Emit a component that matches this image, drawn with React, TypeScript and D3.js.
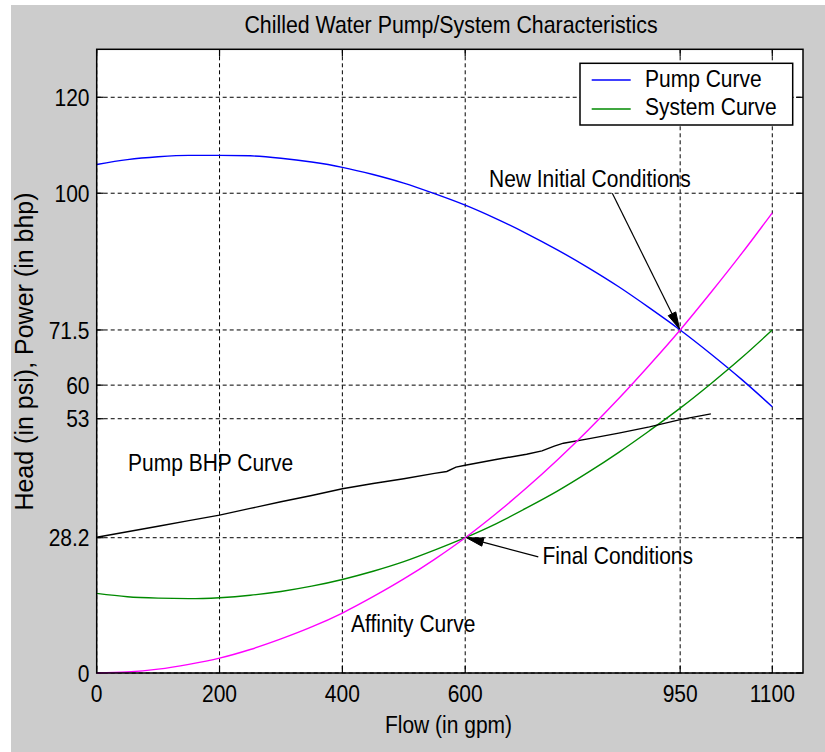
import React from 'react';
import * as d3 from 'd3';

// ---------- data ----------
const flow = [0, 50, 100, 150, 200, 250, 300, 350, 400, 450, 500, 550, 600, 650, 700, 750, 800, 850, 900, 950, 1000, 1050, 1100];
const pumpHead = [106.0, 107.0, 107.6, 107.9, 107.9, 107.8, 107.3, 106.5, 105.4, 103.9, 102.1, 99.9, 97.5, 94.7, 91.6, 88.2, 84.5, 80.5, 76.1, 71.5, 66.5, 61.2, 55.5];
const systemHead = [16.6, 15.9, 15.6, 15.5, 15.7, 16.2, 17.0, 18.1, 19.5, 21.2, 23.2, 25.6, 28.2, 31.1, 34.4, 37.9, 41.8, 46.0, 50.5, 55.2, 60.3, 65.7, 71.5];
const affinityHead = [0, 0.2, 0.8, 1.8, 3.1, 4.9, 7.1, 9.6, 12.5, 15.9, 19.6, 23.7, 28.2, 33.2, 38.6, 44.4, 50.6, 57.2, 64.2, 71.5, 79.3, 87.4, 95.9];
const bhpFlow = [0, 50, 100, 150, 200, 250, 300, 350, 400, 450, 500, 550, 570, 585, 600, 650, 700, 725, 745, 760, 800, 850, 900, 950, 1000];
const bhpPower = [28.3, 29.45, 30.6, 31.75, 32.9, 34.3, 35.7, 37.0, 38.4, 39.5, 40.5, 41.6, 42.0, 42.9, 43.3, 44.5, 45.6, 46.3, 47.3, 47.9, 48.8, 50.0, 51.3, 52.8, 54.0];

const xTicks = [0, 200, 400, 600, 950, 1100];
const xTickLabels = ['0', '200', '400', '600', '950', '1100'];
const yTicks = [0, 28.2, 53, 60, 71.5, 100, 120];
const yTickLabels = ['0', '28.2', '53', '60', '71.5', '100', '120'];

const legendNames = ['Pump Curve', 'System Curve'];
const legendColors = ['#0000ff', '#008a00'];

// annotations in data units
const arrowNotes = [
  { label: 'New Initial Conditions', tx: 638.7, ty: 101.3, ax: 839.5, ay: 100.0, bx: 949, by: 71.7 },
  { label: 'Final Conditions', tx: 725.9, ty: 22.7, ax: 719, ay: 24.2, bx: 602, by: 28.2 },
];
const plainNotes = [
  { label: 'Pump BHP Curve', tx: 51, ty: 42.1 },
  { label: 'Affinity Curve', tx: 414, ty: 8.5 },
];

const FONT = 'Liberation Sans, Arial, Helvetica, sans-serif';

function T(props: { x: number; y: number; anchor?: string; size?: number; sx?: number; rotate?: number; children: React.ReactNode }) {
  const { x, y, anchor = 'start', size = 24, sx = 0.875, rotate = 0, children } = props;
  const tr = `translate(${x},${y})${rotate ? ` rotate(${rotate})` : ''} scale(${sx},1)`;
  return (
    <text transform={tr} textAnchor={anchor} fontSize={size} fill="#000">{children}</text>
  );
}

export default function App() {
  const W = 825, H = 752;
  const left = 96.7, right = 803, top = 49.3, bottom = 673;
  const x = d3.scaleLinear().domain([0, 1150]).range([left, right]);
  const y = d3.scaleLinear().domain([0, 130]).range([bottom, top]);

  const lineSmooth = d3.line<[number, number]>().x(d => x(d[0])).y(d => y(d[1])).curve(d3.curveMonotoneX);
  const lineLin = d3.line<[number, number]>().x(d => x(d[0])).y(d => y(d[1]));

  const pumpPts = flow.map((q, i) => [q, pumpHead[i]] as [number, number]);
  const sysPts = flow.map((q, i) => [q, systemHead[i]] as [number, number]);
  const affPts = flow.map((q, i) => [q, affinityHead[i]] as [number, number]);
  const bhpPts = bhpFlow.map((q, i) => [q, bhpPower[i]] as [number, number]);

  const tick = 7;

  const arrowHead = (x1: number, y1: number, x2: number, y2: number) => {
    const dx = x2 - x1, dy = y2 - y1;
    const len = Math.hypot(dx, dy);
    const ux = dx / len, uy = dy / len;
    const L = 17, hw = 4.2;
    const bx = x2 - ux * L, by = y2 - uy * L;
    const px = -uy, py = ux;
    return {
      base: [bx, by],
      pts: `${x2},${y2} ${bx + px * hw},${by + py * hw} ${bx - px * hw},${by - py * hw}`,
    };
  };

  return (
    <svg width={W} height={H} style={{ position: 'absolute', left: 0, top: 0, display: 'block' }} fontFamily={FONT}>
      <rect x={0} y={0} width={W} height={H} fill="#ffffff" />
      <rect x={11} y={5} width={W - 11} height={H - 5} fill="#cccccc" />
      <rect x={left} y={top} width={right - left} height={bottom - top} fill="#ffffff" />

      {/* grid */}
      <g stroke="#000" strokeWidth={1} strokeDasharray="4,3" fill="none">
        {xTicks.map((t, i) => (
          <line key={'gx' + i} x1={x(t)} x2={x(t)} y1={top} y2={bottom} />
        ))}
        {yTicks.map((t, i) => (
          <line key={'gy' + i} x1={left} x2={right} y1={y(t)} y2={y(t)} />
        ))}
      </g>

      {/* ticks */}
      <g stroke="#000" strokeWidth={1.2}>
        {xTicks.map((t, i) => (
          <g key={'tx' + i}>
            <line x1={x(t)} x2={x(t)} y1={bottom} y2={bottom - tick} />
            <line x1={x(t)} x2={x(t)} y1={top} y2={top + tick} />
          </g>
        ))}
        {yTicks.map((t, i) => (
          <g key={'ty' + i}>
            <line x1={left} x2={left + tick} y1={y(t)} y2={y(t)} />
            <line x1={right} x2={right - tick} y1={y(t)} y2={y(t)} />
          </g>
        ))}
      </g>

      {/* curves */}
      <g fill="none" strokeWidth={1.4}>
        <path d={lineSmooth(pumpPts) || ''} stroke="#0000ff" />
        <path d={lineSmooth(sysPts) || ''} stroke="#008a00" />
        <path d={lineLin(bhpPts) || ''} stroke="#000000" />
        <path d={lineSmooth(affPts) || ''} stroke="#ff00ff" />
      </g>

      {/* axes box */}
      <rect x={left} y={top} width={right - left} height={bottom - top} fill="none" stroke="#000" strokeWidth={1.5} />

      {/* tick labels */}
      {xTicks.map((t, i) => (
        <T key={'lx' + i} x={x(t)} y={701.5} anchor="middle">{xTickLabels[i]}</T>
      ))}
      {yTicks.map((t, i) => (
        <T key={'ly' + i} x={89.5} y={y(t) + 8.6} anchor="end">{yTickLabels[i]}</T>
      ))}

      {/* annotations */}
      {arrowNotes.map((n, i) => {
        const x1 = x(n.ax), y1 = y(n.ay), x2 = x(n.bx), y2 = y(n.by);
        const h = arrowHead(x1, y1, x2, y2);
        return (
          <g key={'an' + i}>
            <line x1={x1} y1={y1} x2={h.base[0]} y2={h.base[1]} stroke="#000" strokeWidth={1.2} />
            <polygon points={h.pts} fill="#000" stroke="#000" strokeWidth={1} />
            <T x={x(n.tx)} y={y(n.ty)}>{n.label}</T>
          </g>
        );
      })}
      {plainNotes.map((n, i) => (
        <T key={'pn' + i} x={x(n.tx)} y={y(n.ty)}>{n.label}</T>
      ))}

      {/* legend */}
      <g>
        <rect x={580} y={63.3} width={212.7} height={61.7} fill="#ffffff" stroke="#000" strokeWidth={1.5} />
        {legendNames.map((name, i) => (
          <g key={'lg' + i}>
            <line x1={591.7} x2={630.7} y1={80 + i * 29} y2={80 + i * 29} stroke={legendColors[i]} strokeWidth={1.4} />
            <T x={645} y={87 + i * 27.5}>{name}</T>
          </g>
        ))}
      </g>

      {/* title and axis labels */}
      <T x={451} y={33} anchor="middle" sx={0.89}>Chilled Water Pump/System Characteristics</T>
      <T x={448.5} y={733} anchor="middle">Flow (in gpm)</T>
      <T x={33} y={351.5} anchor="middle" size={25} sx={1} rotate={-90}>Head (in psi), Power (in bhp)</T>
    </svg>
  );
}
